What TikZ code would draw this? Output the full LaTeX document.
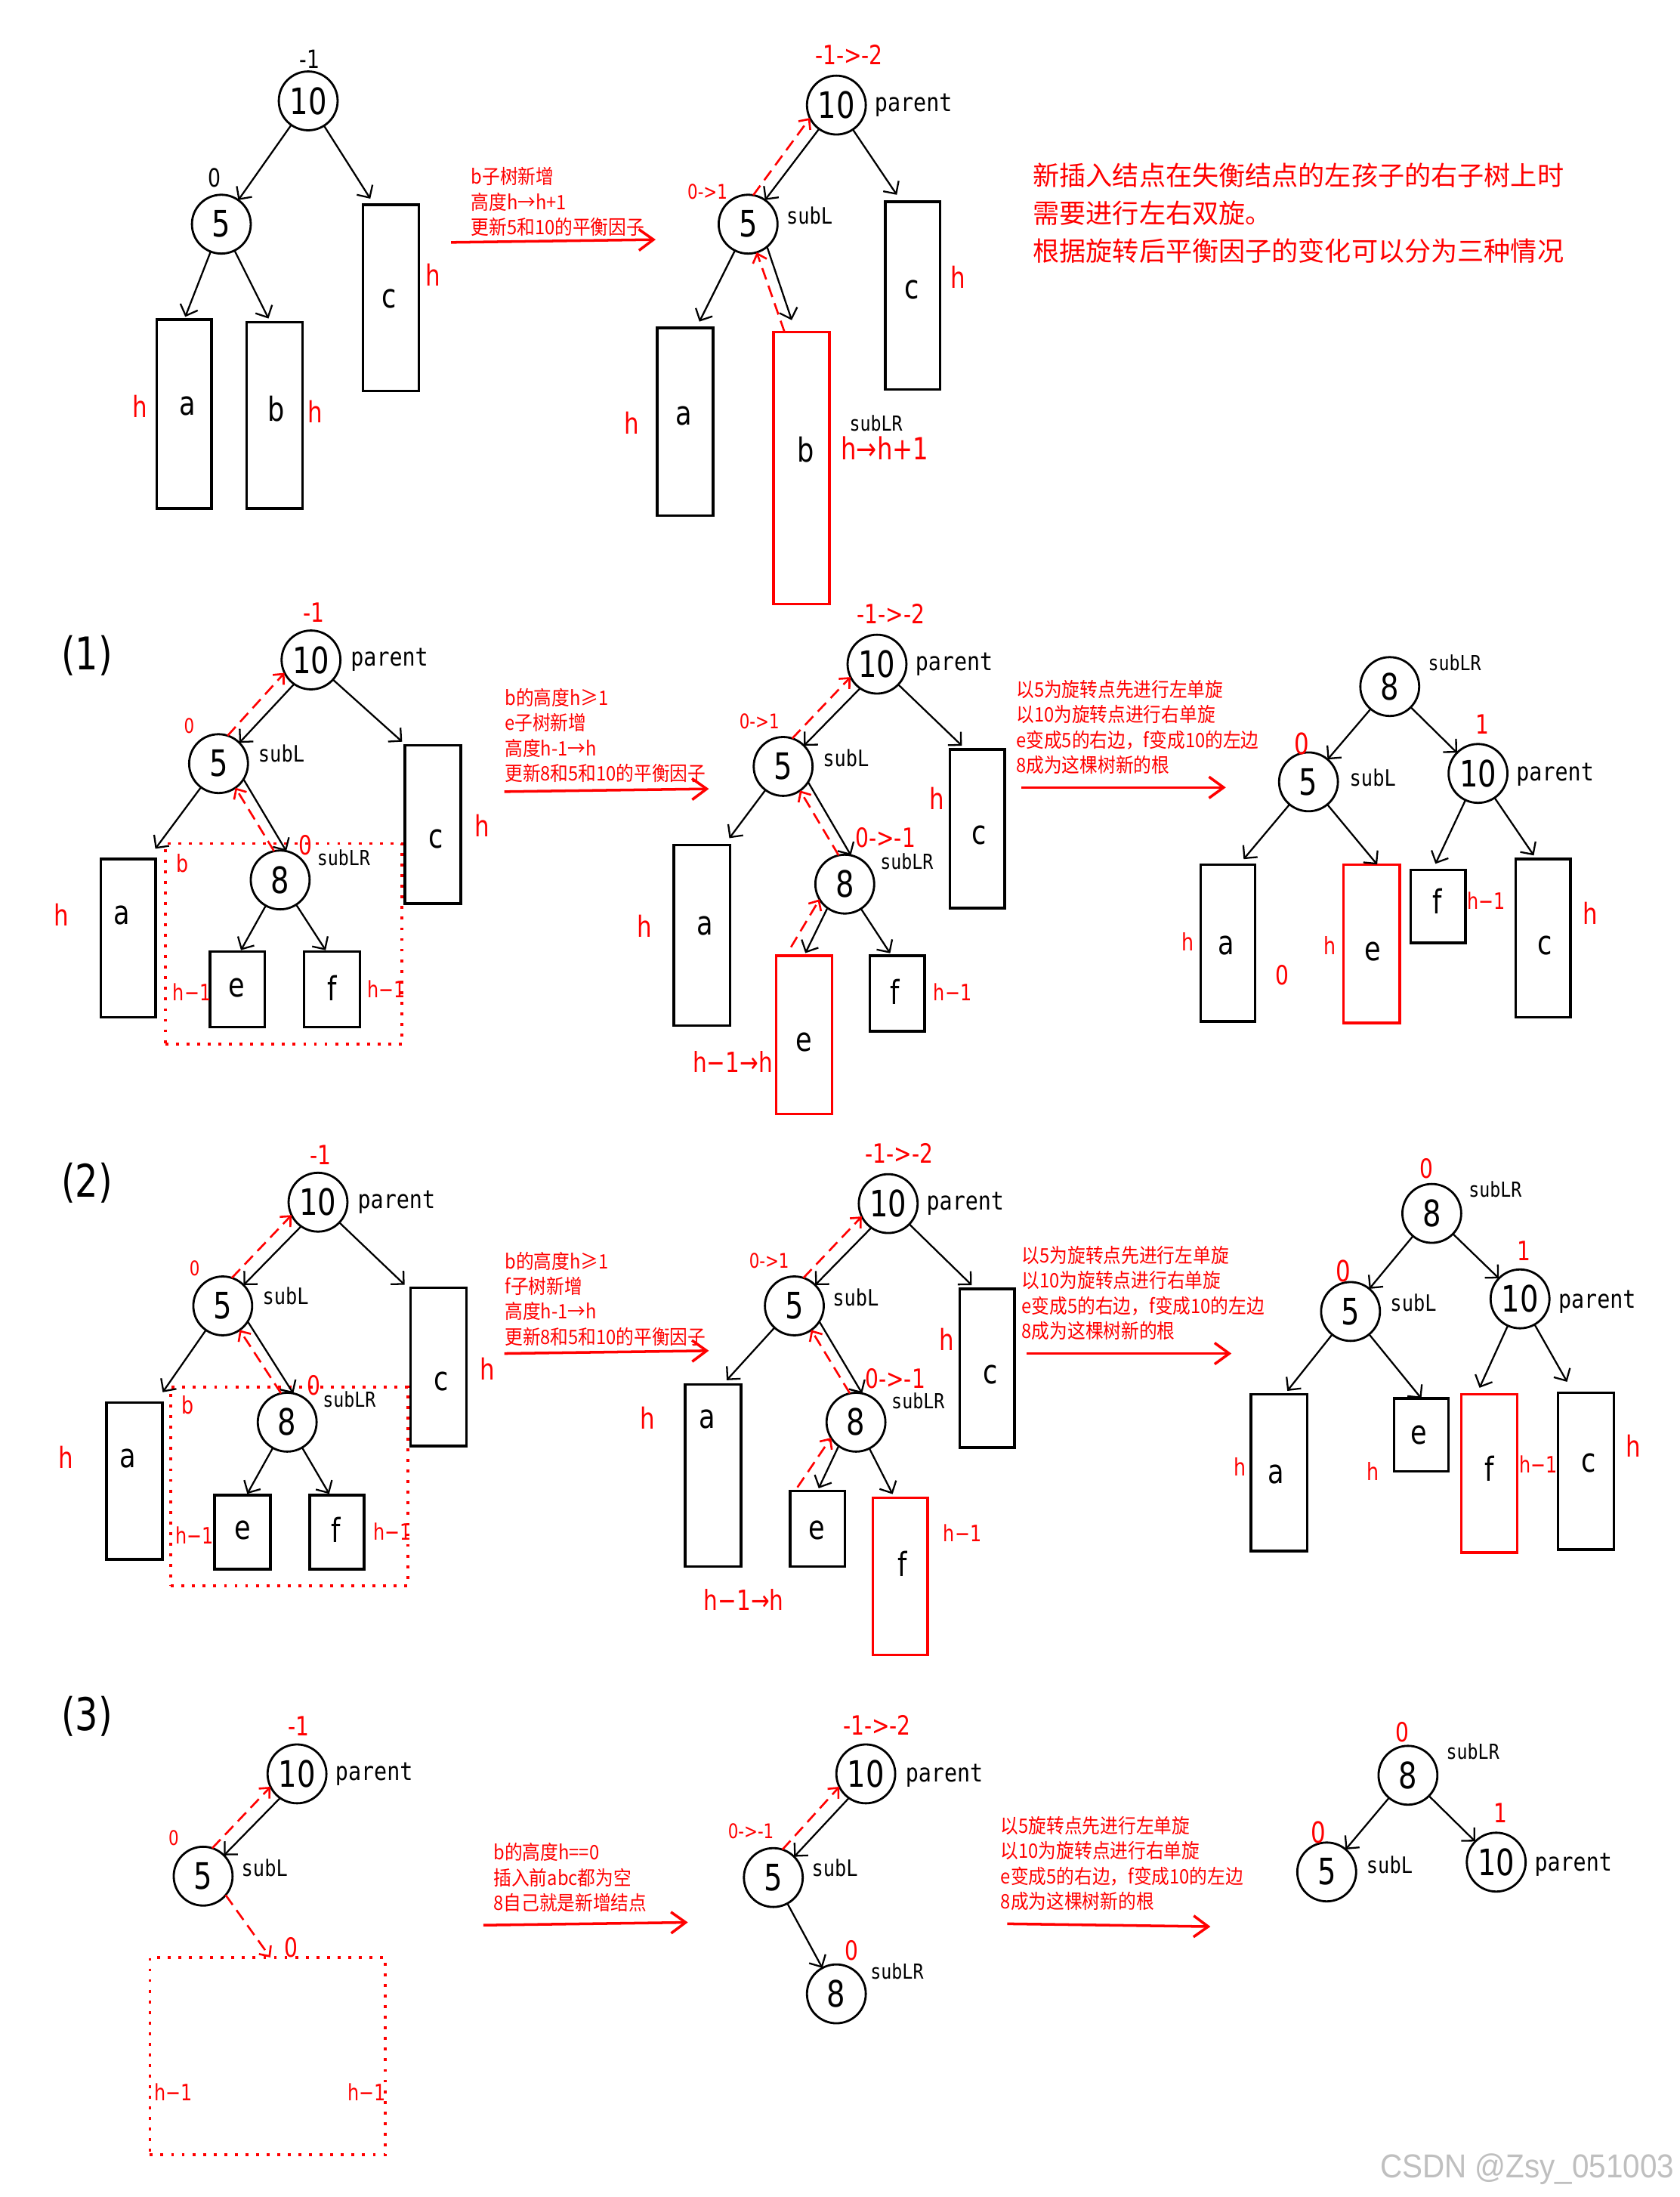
\documentclass[tikz,border=0pt]{standalone}
\usepackage{fontspec}
\usetikzlibrary{arrows.meta}
\setmainfont{DejaVu Sans}
\newfontfamily\cond[FakeStretch=0.8]{DejaVu Sans}
\newfontfamily\monoc[FakeStretch=0.85]{DejaVu Sans Mono}
\newfontfamily\cjkc[FakeStretch=0.9]{Noto Sans CJK SC}
\newfontfamily\cjk{Noto Sans CJK SC}
\newfontfamily\wmfont[FakeStretch=0.92]{Liberation Sans}
\newlength\uu \setlength\uu{0.018549cm}
\newcommand\mybox[6]{\node[#1,minimum width={(#5-#3)*\uu},minimum height={(#6-#4)*\uu}] (#2) at ({(#3+#5)/2},{(#4+#6)/2}) {};}
\newcommand\circn[4]{\node[cnodest] (#1) at (#2,#3) {#4};}
\newcommand\labn[5]{\node[#1] (#2) at (#3,#4) {#5};}
\newcommand\pairup[2]{\draw[arr] (#1.235) -- (#2.45); \draw[rarr] (#2.72) -- (#1.206);}
\newcommand\pairlow[2]{\draw[arr] (#1.-32) -- (#2.78); \draw[rarr] (#2.102) -- (#1.-55);}
\tikzset{
 cnodest/.style={circle,draw,line width=0.8pt,minimum size=42\uu,inner sep=0pt,outer sep=0pt,font=\cond\fontsize{13.7}{14}\selectfont},
 boxst/.style={draw,line width=1pt,inner sep=0pt,outer sep=0pt},
 rboxst/.style={boxst,draw=red},
 dotst/.style={draw=red,line width=1.1pt,dash pattern=on 1.1pt off 2.9pt,inner sep=0pt,outer sep=0pt},
 letst/.style={font=\cond\fontsize{12.5}{13}\selectfont,inner sep=0pt},
 hst/.style={text=red,font=\cond\fontsize{11}{12}\selectfont,inner sep=0pt},
 hsm/.style={text=red,font=\cond\fontsize{9}{10}\selectfont,inner sep=0pt},
 hmo/.style={text=red,font=\cond\fontsize{8.5}{10}\selectfont,inner sep=0pt},
 hlong/.style={text=red,font=\cond\fontsize{10.5}{11}\selectfont,inner sep=0pt},
 bfst/.style={font=\cond\fontsize{9.5}{10}\selectfont,inner sep=0pt},
 rbfst/.style={text=red,font=\cond\fontsize{10}{11}\selectfont,inner sep=0pt},
 rbfm/.style={text=red,font=\cond\fontsize{10}{11}\selectfont,inner sep=0pt},
 rbfs/.style={text=red,font=\cond\fontsize{7.6}{8}\selectfont,inner sep=0pt},
 rbig/.style={text=red,font=\cond\fontsize{11}{12}\selectfont,inner sep=0pt},
 tagp/.style={font=\monoc\fontsize{9.5}{10}\selectfont,inner sep=0pt,anchor=west},
 tagl/.style={font=\monoc\fontsize{8.5}{9}\selectfont,inner sep=0pt,anchor=west},
 tagr/.style={font=\monoc\fontsize{7.8}{9}\selectfont,inner sep=0pt,anchor=west},
 arr/.style={line width=0.65pt,-{Straight Barb[length=3.5pt,width=7pt]}},
 rarr/.style={red,line width=0.75pt,dash pattern=on 4.5pt off 2.5pt,-{Straight Barb[length=3pt,width=5.5pt]}},
 bigarr/.style={red,line width=1pt,-{Straight Barb[length=5.5pt,width=8pt]}},
 notest/.style={text=red,font=\cjkc\fontsize{7.5}{9.5}\selectfont,align=left,anchor=north west,inner sep=0pt},
 titlest/.style={text=red,font=\cjk\fontsize{10}{14.25}\selectfont,align=left,anchor=north west,inner sep=0pt},
 secst/.style={font=\cond\fontsize{17}{18}\selectfont,inner sep=0pt},
}
\begin{document}
\begin{tikzpicture}[x=0.018549cm,y=-0.018549cm]
\useasboundingbox (0,0) rectangle (1199,1568);
\fill[white] (0,0) rectangle (1199,1568);

% ================= Section 0 left
\circn{tA10}{220}{72}{10}
\labn{bfst}{tA10f}{221}{42}{-1}
\circn{tA5}{158}{160}{5}
\labn{bfst}{tA5f}{153}{127}{0}
\mybox{boxst}{tAa}{112}{228}{151}{363}
\mybox{boxst}{tAb}{176}{230}{216}{363}
\mybox{boxst}{tAc}{259}{146}{299}{279}
\labn{letst}{tAaL}{134}{290}{a}
\labn{letst}{tAbL}{197}{292}{b}
\labn{letst}{tAcL}{278}{213}{c}
\labn{hst}{tAh1}{100}{290}{h}
\labn{hst}{tAh2}{225}{294}{h}
\labn{hst}{tAh3}{309}{196}{h}
\draw[arr] (tA10) -- (tA5);
\draw[arr,shorten >=5\uu] (tA10) -- ([xshift=-12\uu]tAc.north);
\draw[arr,shorten >=2\uu] (tA5) -- (tAa.north);
\draw[arr,shorten >=3\uu] (tA5) -- ([xshift=-3\uu]tAb.north);

\node[notest] (n0) at (336,119) {b子树新增\\高度h→h+1\\更新5和10的平衡因子};
\coordinate (n0s) at (322,173); \coordinate (n0e) at (468,171);
\draw[bigarr] (n0s) -- (n0e);

% ================= Section 0 right
\circn{tB10}{597}{75}{10}
\labn{rbfst}{tB10f}{606}{39}{-1->-2}
\labn{tagp}{tB10t}{624}{75}{parent}
\circn{tB5}{534}{160}{5}
\labn{tagl}{tB5t}{561}{154}{subL}
\labn{rbfs}{tB5f}{505}{137}{0->1}
\mybox{boxst}{tBc}{632}{144}{671}{278}
\labn{letst}{tBcL}{651}{207}{c}
\labn{hst}{tBch}{684}{198}{h}
\mybox{boxst}{tBa}{469}{234}{509}{368}
\labn{letst}{tBaL}{488}{297}{a}
\labn{hst}{tBah}{451}{302}{h}
\mybox{rboxst}{tBb}{552}{237}{592}{431}
\labn{letst}{tBbL}{575}{321}{b}
\labn{tagr}{tBbt}{606}{302}{subLR}
\labn{hst,font=\cond\fontsize{11.5}{12}\selectfont,anchor=west}{tBbh}{600}{320}{h→h+1}
\draw[arr] (tB10.234) -- (tB5.55);
\draw[rarr] (tB5.80) -- (tB10.206);
\draw[arr,shorten >=6\uu] (tB10) -- ([xshift=-8\uu]tBc.north);
\draw[arr,shorten >=5\uu] (tB5) -- ([xshift=8\uu]tBa.north);
\draw[arr,shorten >=9\uu] (tB5.-50) -- ([xshift=-4\uu]tBb.north);
\draw[rarr] ([xshift=-12\uu]tBb.north) -- (tB5.-73);

\node[titlest] (title) at (737,116) {新插入结点在失衡结点的左孩子的右子树上时\\需要进行左右双旋。\\根据旋转后平衡因子的变化可以分为三种情况};

% ================= Section 1
\labn{secst}{sec1}{62}{468}{(1)}
% left
\circn{pA10}{222}{471}{10}
\labn{rbfst}{pA10f}{224}{437}{-1}
\labn{tagp}{pA10t}{250}{471}{parent}
\circn{pA5}{156}{545}{5}
\labn{tagl}{pA5t}{184}{538}{subL}
\labn{rbfs}{pA5f}{135}{518}{0}
\circn{pA8}{200}{628}{8}
\labn{tagr}{pA8t}{226}{612}{subLR}
\mybox{dotst}{pAbox}{118}{602}{287}{745}
\labn{rbfst}{pA8f}{218}{603}{0}
\labn{hsm}{pAbl}{130}{616}{b}
\mybox{boxst}{pAa}{72}{613}{111}{726}
\labn{letst}{pAaL}{87}{653}{a}
\labn{hst}{pAah}{44}{653}{h}
\mybox{boxst}{pAc}{289}{532}{329}{645}
\labn{letst}{pAcL}{311}{599}{c}
\labn{hst}{pAch}{344}{589}{h}
\mybox{boxst}{pAe}{150}{679}{189}{733}
\labn{letst}{pAeL}{169}{705}{e}
\mybox{boxst}{pAf}{217}{679}{257}{733}
\labn{letst}{pAfL}{237}{705}{f}
\labn{hmo}{pAeh}{137}{708}{h−1}
\labn{hmo}{pAfh}{276}{706}{h−1}
\pairup{pA10}{pA5}
\pairlow{pA5}{pA8}
\draw[arr,shorten >=4\uu] (pA10) -- ([xshift=-19\uu]pAc.north);
\draw[arr,shorten >=9\uu] (pA5) -- ([xshift=14\uu]pAa.north);
\draw[arr,shorten >=1\uu] (pA8) -- ([xshift=2\uu]pAe.north);
\draw[arr,shorten >=1\uu] (pA8) -- ([xshift=-4\uu]pAf.north);

\node[notest] (n1) at (360,491) {b的高度h≥1\\e子树新增\\高度h-1→h\\更新8和5和10的平衡因子};
\coordinate (n1s) at (360,565); \coordinate (n1e) at (506,563);
\draw[bigarr] (n1s) -- (n1e);

% middle
\circn{pB10}{626}{474}{10}
\labn{rbfst}{pB10f}{636}{438}{-1->-2}
\labn{tagp}{pB10t}{653}{474}{parent}
\circn{pB5}{559}{547}{5}
\labn{tagl}{pB5t}{587}{541}{subL}
\labn{rbfs}{pB5f}{542}{515}{0->1}
\circn{pB8}{603}{631}{8}
\labn{tagr}{pB8t}{628}{615}{subLR}
\labn{rbfst}{pB8f}{632}{598}{0->-1}
\mybox{boxst}{pBa}{481}{603}{521}{732}
\labn{letst}{pBaL}{503}{661}{a}
\labn{hst}{pBah}{460}{661}{h}
\mybox{boxst}{pBc}{678}{535}{717}{648}
\labn{letst}{pBcL}{699}{596}{c}
\labn{hst}{pBch}{669}{570}{h}
\mybox{rboxst}{pBe}{554}{682}{594}{795}
\labn{letst}{pBeL}{574}{744}{e}
\labn{hlong}{pBeh}{523}{758}{h−1→h}
\mybox{boxst}{pBf}{621}{682}{660}{736}
\labn{letst}{pBfL}{639}{708}{f}
\labn{hmo}{pBfh}{680}{708}{h−1}
\pairup{pB10}{pB5}
\pairlow{pB5}{pB8}
\draw[arr,shorten >=4\uu] (pB10) -- ([xshift=-8\uu]pBc.north);
\draw[arr,shorten >=6\uu] (pB5) -- ([xshift=16\uu]pBa.north);
\draw[arr,shorten >=2\uu] (pB8.234) -- (pBe.north);
\draw[rarr,shorten <=7\uu] ([xshift=-13\uu]pBe.north) -- (pB8.211);
\draw[arr,shorten >=2\uu] (pB8) -- ([xshift=-4\uu]pBf.north);

\node[notest] (n2) at (725,485) {以5为旋转点先进行左单旋\\以10为旋转点进行右单旋\\e变成5的右边，f变成10的左边\\8成为这棵树新的根};
\coordinate (n2s) at (729,562); \coordinate (n2e) at (875,562);
\draw[bigarr] (n2s) -- (n2e);

% right
\circn{pC8}{992}{490}{8}
\labn{tagr}{pC8t}{1019}{473}{subLR}
\circn{pC5}{934}{558}{5}
\labn{tagl}{pC5t}{963}{555}{subL}
\labn{rbig}{pC5f}{929}{531}{0}
\circn{pC10}{1055}{552}{10}
\labn{tagp}{pC10t}{1082}{553}{parent}
\labn{rbfst}{pC10f}{1058}{517}{1}
\mybox{boxst}{pCa}{857}{617}{896}{729}
\labn{letst}{pCaL}{875}{675}{a}
\labn{hsm}{pCah}{848}{672}{h}
\labn{rbfst}{pCz}{915}{696}{0}
\mybox{rboxst}{pCe}{959}{617}{999}{730}
\labn{letst}{pCeL}{980}{679}{e}
\labn{hsm}{pCeh}{949}{675}{h}
\mybox{boxst}{pCf}{1007}{621}{1046}{673}
\labn{letst}{pCfL}{1026}{643}{f}
\labn{hmo}{pCfh}{1061}{643}{h−1}
\mybox{boxst}{pCc}{1082}{613}{1121}{726}
\labn{letst}{pCcL}{1103}{675}{c}
\labn{hst}{pCch}{1135}{652}{h}
\draw[arr] (pC8) -- (pC5);
\draw[arr] (pC8) -- (pC10);
\draw[arr,shorten >=5\uu] (pC5) -- ([xshift=8\uu]pCa.north);
\draw[arr] (pC5) -- ([xshift=4\uu]pCe.north);
\draw[arr,shorten >=5\uu] (pC10) -- ([xshift=-4\uu]pCf.north);
\draw[arr,shorten >=3\uu] (pC10) -- ([xshift=-5\uu]pCc.north);

% ================= Section 2
\labn{secst}{sec2}{62}{844}{(2)}
% left
\circn{pD10}{227}{858}{10}
\labn{rbfst}{pD10f}{229}{824}{-1}
\labn{tagp}{pD10t}{255}{858}{parent}
\circn{pD5}{159}{932}{5}
\labn{tagl}{pD5t}{187}{925}{subL}
\labn{rbfs}{pD5f}{139}{905}{0}
\circn{pD8}{205}{1015}{8}
\labn{tagr}{pD8t}{230}{999}{subLR}
\mybox{dotst}{pDbox}{122}{990}{291}{1132}
\labn{rbfst}{pD8f}{224}{989}{0}
\labn{hsm}{pDbl}{134}{1003}{b}
\mybox{boxst}{pDa}{76}{1001}{116}{1113}
\labn{letst}{pDaL}{91}{1041}{a}
\labn{hst}{pDah}{47}{1040}{h}
\mybox{boxst}{pDc}{293}{919}{333}{1032}
\labn{letst}{pDcL}{315}{986}{c}
\labn{hst}{pDch}{348}{977}{h}
\mybox{boxst}{pDe}{153}{1067}{193}{1120}
\labn{letst}{pDeL}{173}{1092}{e}
\mybox{boxst}{pDf}{221}{1067}{260}{1120}
\labn{letst}{pDfL}{240}{1092}{f}
\labn{hmo}{pDeh}{139}{1096}{h−1}
\labn{hmo}{pDfh}{280}{1093}{h−1}
\pairup{pD10}{pD5}
\pairlow{pD5}{pD8}
\draw[arr,shorten >=3\uu] (pD10) -- ([xshift=-22\uu]pDc.north);
\draw[arr,shorten >=9\uu] (pD5) -- ([xshift=15\uu]pDa.north);
\draw[arr,shorten >=1\uu] (pD8) -- ([xshift=3\uu]pDe.north);
\draw[arr,shorten >=1\uu] (pD8) -- ([xshift=-5\uu]pDf.north);

\node[notest] (n3) at (360,893) {b的高度h≥1\\f子树新增\\高度h-1→h\\更新8和5和10的平衡因子};
\coordinate (n3s) at (360,966); \coordinate (n3e) at (506,964);
\draw[bigarr] (n3s) -- (n3e);

% middle
\circn{pE10}{634}{859}{10}
\labn{rbfst}{pE10f}{642}{823}{-1->-2}
\labn{tagp}{pE10t}{661}{859}{parent}
\circn{pE5}{567}{932}{5}
\labn{tagl}{pE5t}{594}{926}{subL}
\labn{rbfs}{pE5f}{549}{900}{0->1}
\circn{pE8}{611}{1015}{8}
\labn{tagr}{pE8t}{636}{1000}{subLR}
\labn{rbfst}{pE8f}{639}{984}{0->-1}
\mybox{boxst}{pEa}{489}{988}{529}{1118}
\labn{letst}{pEaL}{505}{1013}{a}
\labn{hst}{pEah}{462}{1012}{h}
\mybox{boxst}{pEc}{685}{920}{724}{1033}
\labn{letst}{pEcL}{707}{981}{c}
\labn{hst}{pEch}{676}{956}{h}
\mybox{boxst}{pEe}{564}{1064}{603}{1118}
\labn{letst}{pEeL}{583}{1092}{e}
\mybox{rboxst}{pEf}{623}{1069}{662}{1181}
\labn{letst}{pEfL}{644}{1116}{f}
\labn{hmo}{pEfh}{687}{1094}{h−1}
\labn{hlong}{pEeh}{531}{1142}{h−1→h}
\pairup{pE10}{pE5}
\pairlow{pE5}{pE8}
\draw[arr,shorten >=4\uu] (pE10) -- ([xshift=-8\uu]pEc.north);
\draw[arr,shorten >=4\uu] (pE5) -- ([xshift=7\uu]pEa.north);
\draw[arr,shorten >=2\uu] (pE8.234) -- (pEe.north);
\draw[rarr,shorten <=3\uu] ([xshift=-16\uu]pEe.north) -- (pE8.212);
\draw[arr,shorten >=3\uu] (pE8) -- ([xshift=-4\uu]pEf.north);

\node[notest] (n4) at (729,889) {以5为旋转点先进行左单旋\\以10为旋转点进行右单旋\\e变成5的右边，f变成10的左边\\8成为这棵树新的根};
\coordinate (n4s) at (733,966); \coordinate (n4e) at (879,966);
\draw[bigarr] (n4s) -- (n4e);

% right
\circn{pF8}{1022}{866}{8}
\labn{tagr}{pF8t}{1048}{849}{subLR}
\labn{rbfm}{pF8f}{1018}{834}{0}
\circn{pF5}{964}{936}{5}
\labn{tagl}{pF5t}{992}{930}{subL}
\labn{rbig}{pF5f}{959}{907}{0}
\circn{pF10}{1085}{927}{10}
\labn{tagp}{pF10t}{1112}{929}{parent}
\labn{rbfst}{pF10f}{1088}{893}{1}
\mybox{boxst}{pFa}{893}{995}{933}{1107}
\labn{letst}{pFaL}{911}{1052}{a}
\labn{hsm}{pFah}{885}{1047}{h}
\mybox{boxst}{pFe}{995}{998}{1034}{1050}
\labn{letst}{pFeL}{1013}{1024}{e}
\labn{hsm}{pFeh}{980}{1050}{h}
\mybox{rboxst}{pFf}{1043}{995}{1083}{1108}
\labn{letst}{pFfL}{1063}{1048}{f}
\labn{hmo}{pFfh}{1098}{1045}{h−1}
\mybox{boxst}{pFc}{1112}{994}{1152}{1106}
\labn{letst}{pFcL}{1134}{1044}{c}
\labn{hst}{pFch}{1166}{1032}{h}
\draw[arr] (pF8) -- (pF5);
\draw[arr] (pF8) -- (pF10);
\draw[arr,shorten >=3\uu] (pF5) -- ([xshift=4\uu]pFa.north);
\draw[arr] (pF5) -- (pFe.north);
\draw[arr,shorten >=5\uu] (pF10) -- ([xshift=-9\uu]pFf.north);
\draw[arr,shorten >=9\uu] (pF10) -- ([xshift=-9\uu]pFc.north);

% ================= Section 3
\labn{secst}{sec3}{62}{1225}{(3)}
% left
\circn{pG10}{212}{1266}{10}
\labn{rbfst}{pG10f}{213}{1232}{-1}
\labn{tagp}{pG10t}{239}{1266}{parent}
\circn{pG5}{145}{1339}{5}
\labn{tagl}{pG5t}{172}{1333}{subL}
\labn{rbfs}{pG5f}{124}{1312}{0}
\mybox{dotst}{pGbox}{107}{1397}{275}{1538}
\labn{rbfst}{pGz}{208}{1390}{0}
\labn{hmo}{pGh1}{124}{1493}{h−1}
\labn{hmo}{pGh2}{262}{1493}{h−1}
\pairup{pG10}{pG5}
\draw[rarr] (pG5.-40) -- ([xshift=2\uu]pGbox.north);

\node[notest] (n5) at (352,1315) {b的高度h==0\\插入前abc都为空\\8自己就是新增结点};
\coordinate (n5s) at (345,1374); \coordinate (n5e) at (491,1372);
\draw[bigarr] (n5s) -- (n5e);

% middle
\circn{pH10}{618}{1266}{10}
\labn{rbfst}{pH10f}{626}{1231}{-1->-2}
\labn{tagp}{pH10t}{646}{1267}{parent}
\circn{pH5}{552}{1340}{5}
\labn{tagl}{pH5t}{579}{1333}{subL}
\labn{rbfs}{pH5f}{536}{1307}{0->-1}
\circn{pH8}{597}{1423}{8}
\labn{tagr}{pH8t}{621}{1407}{subLR}
\labn{rbfst}{pH8f}{608}{1392}{0}
\pairup{pH10}{pH5}
\draw[arr] (pH5) -- (pH8);

\node[notest] (n6) at (714,1296) {以5旋转点先进行左单旋\\以10为旋转点进行右单旋\\e变成5的右边，f变成10的左边\\8成为这棵树新的根};
\coordinate (n6s) at (719,1373); \coordinate (n6e) at (864,1375);
\draw[bigarr] (n6s) -- (n6e);

% right
\circn{pI8}{1005}{1267}{8}
\labn{tagr}{pI8t}{1032}{1250}{subLR}
\labn{rbfm}{pI8f}{1001}{1236}{0}
\circn{pI5}{947}{1336}{5}
\labn{tagl}{pI5t}{975}{1331}{subL}
\labn{rbig}{pI5f}{941}{1308}{0}
\circn{pI10}{1068}{1329}{10}
\labn{tagp}{pI10t}{1095}{1331}{parent}
\labn{rbfst}{pI10f}{1071}{1294}{1}
\draw[arr] (pI8) -- (pI5);
\draw[arr] (pI8) -- (pI10);

% watermark
\node[text=black!25,font=\wmfont\fontsize{12.5}{13}\selectfont,inner sep=0pt] (wm) at (1090,1548) {CSDN @Zsy\_051003};
\end{tikzpicture}
\end{document}
